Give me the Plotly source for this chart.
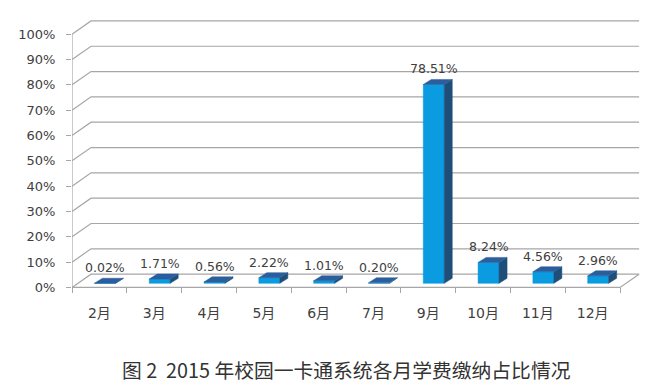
import plotly.graph_objects as go

# ---- data ----
months = ["2月", "3月", "4月", "5月", "6月", "7月", "9月", "10月", "11月", "12月"]
shares = [0.02, 1.71, 0.56, 2.22, 1.01, 0.20, 78.51, 8.24, 4.56, 2.96]
y_ticks = [0, 10, 20, 30, 40, 50, 60, 70, 80, 90, 100]
y_tick_labels = [f"{v}%" for v in y_ticks]
bar_labels = [f"{v:.2f}%" for v in shares]
caption = "图 2  2015 年校园一卡通系统各月学费缴纳占比情况"

# ---- 3D geometry (in axis units) ----
n = len(months)
DX, DY = 0.347, 5.25          # depth of the chart box
BW, BDX, BDY = 0.383, 0.146, 2.0  # bar width and bar depth
OFFX = (DX - BDX) / 2
OY = (DY - BDY) / 2
centers = [i + 0.5 for i in range(n)]

GRID = "#A6A6A6"
FRONT = "#0A9BE0"
SIDE = "#1F4E79"
TOP = "#2B5E9C"
TXT = "#404040"

fig = go.Figure()

# walls / gridlines
gx, gy = [], []
for v in y_ticks:
    gx += [0, DX, n + DX, None]
    gy += [v, v + DY, v + DY, None]
gx += [0, n, n + DX, None]
gy += [0, 0, DY, None]
gx += [0, 0]
gy += [0, 100]
fig.add_trace(go.Scatter(x=gx, y=gy, mode="lines", line=dict(color=GRID, width=1.2),
                         hoverinfo="skip", showlegend=False))

# bars
fx, fy, sx, sy, tx, ty = [], [], [], [], [], []
for c, v in zip(centers, shares):
    xl = c + OFFX - BW / 2
    xr = c + OFFX + BW / 2
    fx += [xl, xr, xr, xl, xl, None]
    fy += [OY, OY, OY + v, OY + v, OY, None]
    sx += [xr, xr + BDX, xr + BDX, xr, xr, None]
    sy += [OY, OY + BDY, OY + BDY + v, OY + v, OY, None]
    tx += [xl, xr, xr + BDX, xl + BDX, xl, None]
    ty += [OY + v, OY + v, OY + v + BDY, OY + v + BDY, OY + v, None]

for px, py, col in [(fx, fy, FRONT), (sx, sy, SIDE), (tx, ty, TOP)]:
    fig.add_trace(go.Scatter(x=px, y=py, mode="lines", fill="toself", fillcolor=col,
                             line=dict(color=col, width=0.5), hoverinfo="skip",
                             showlegend=False))

for c, v, lab in zip(centers, shares, bar_labels):
    fig.add_annotation(x=c + OFFX, y=v + OY + BDY, text=lab, showarrow=False,
                       yanchor="bottom", yshift=1,
                       font=dict(family="DejaVu Sans", size=12.5, color=TXT))

fig.add_annotation(x=0.482, y=-0.295, xref="paper", yref="paper", text=caption,
                   showarrow=False, xanchor="center", yanchor="middle",
                   font=dict(family="Noto Sans CJK SC", size=19.8, color="#333333"))

fig.update_layout(
    width=660, height=380,
    margin=dict(l=64, r=26, t=11, b=98),
    paper_bgcolor="white", plot_bgcolor="white",
    showlegend=False,
    xaxis=dict(range=[0, 10.4], tickvals=centers, ticktext=months,
               showgrid=False, zeroline=False, showline=False,
               ticks="outside", ticklen=0, ticklabelstandoff=13,
               anchor="free", position=1 / 107,
               minor=dict(tickvals=list(range(n + 1)), ticks="outside", ticklen=5,
                          tickcolor=GRID, tickwidth=1.2, showgrid=False),
               tickfont=dict(family="DejaVu Sans, Noto Sans CJK SC", size=14, color=TXT)),
    yaxis=dict(range=[-1, 106], tickvals=y_ticks, ticktext=y_tick_labels,
               showgrid=False, zeroline=False, showline=False,
               ticks="outside", ticklen=5, tickcolor=GRID, tickwidth=1.2,
               ticklabelstandoff=8,
               tickfont=dict(family="DejaVu Sans", size=13, color=TXT)),
)

fig.write_html("out.html")
